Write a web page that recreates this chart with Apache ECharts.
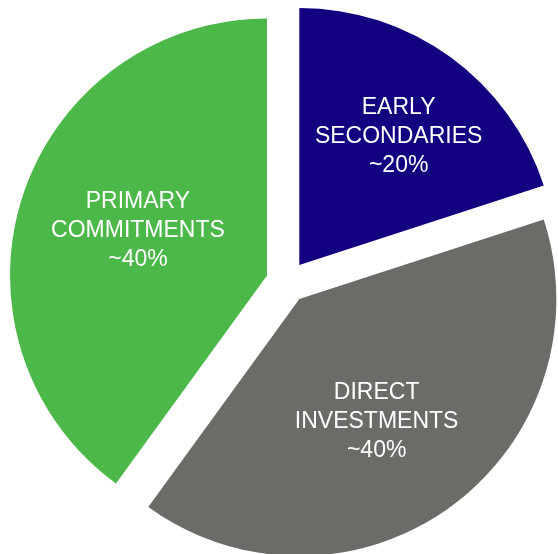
<!DOCTYPE html>
<html>
<head>
<meta charset="utf-8">
<script src="https://cdn.jsdelivr.net/npm/echarts@6/dist/echarts.min.js"></script>
<style>
html,body{margin:0;padding:0;background:#fff;}
#c{width:558px;height:554px;}
</style>
</head>
<body>
<div id="c"></div>
<script>
var categories = ['EARLY\nSECONDARIES', 'DIRECT\nINVESTMENTS', 'PRIMARY\nCOMMITMENTS'];
var values = [20, 40, 40];
var shareLabels = ['~20%', '~40%', '~40%'];
var colors = ['#120080', '#6d6b67', '#4db84a'];
var labelShifts = [[22, -22], [0, 16], [-4, -4]];

var data = categories.map(function (c, i) {
  return {
    name: c,
    value: values[i],
    selected: true,
    itemStyle: { color: colors[i] },
    label: { formatter: c + '\n' + shareLabels[i] }
  };
});

var chart = echarts.init(document.getElementById('c'), null, { renderer: 'canvas' });
chart.setOption({
  animation: false,
  series: [{
    type: 'pie',
    center: [287, 282],
    radius: [0, 257],
    startAngle: 90,
    clockwise: true,
    selectedMode: 'multiple',
    selectedOffset: 21,
    silent: true,
    label: {
      show: true,
      position: 'inside',
      color: '#ffffff',
      fontSize: 23,
      lineHeight: 29,
      fontFamily: '"Liberation Sans", Arial, Helvetica, sans-serif',
      align: 'center',
      verticalAlign: 'middle'
    },
    labelLayout: function (p) {
      var s = labelShifts[p.dataIndex];
      return { dx: s[0], dy: s[1] };
    },
    labelLine: { show: false },
    itemStyle: { borderWidth: 0 },
    select: { itemStyle: { borderWidth: 0 } },
    emphasis: { disabled: true },
    data: data
  }]
});
</script>
</body>
</html>
